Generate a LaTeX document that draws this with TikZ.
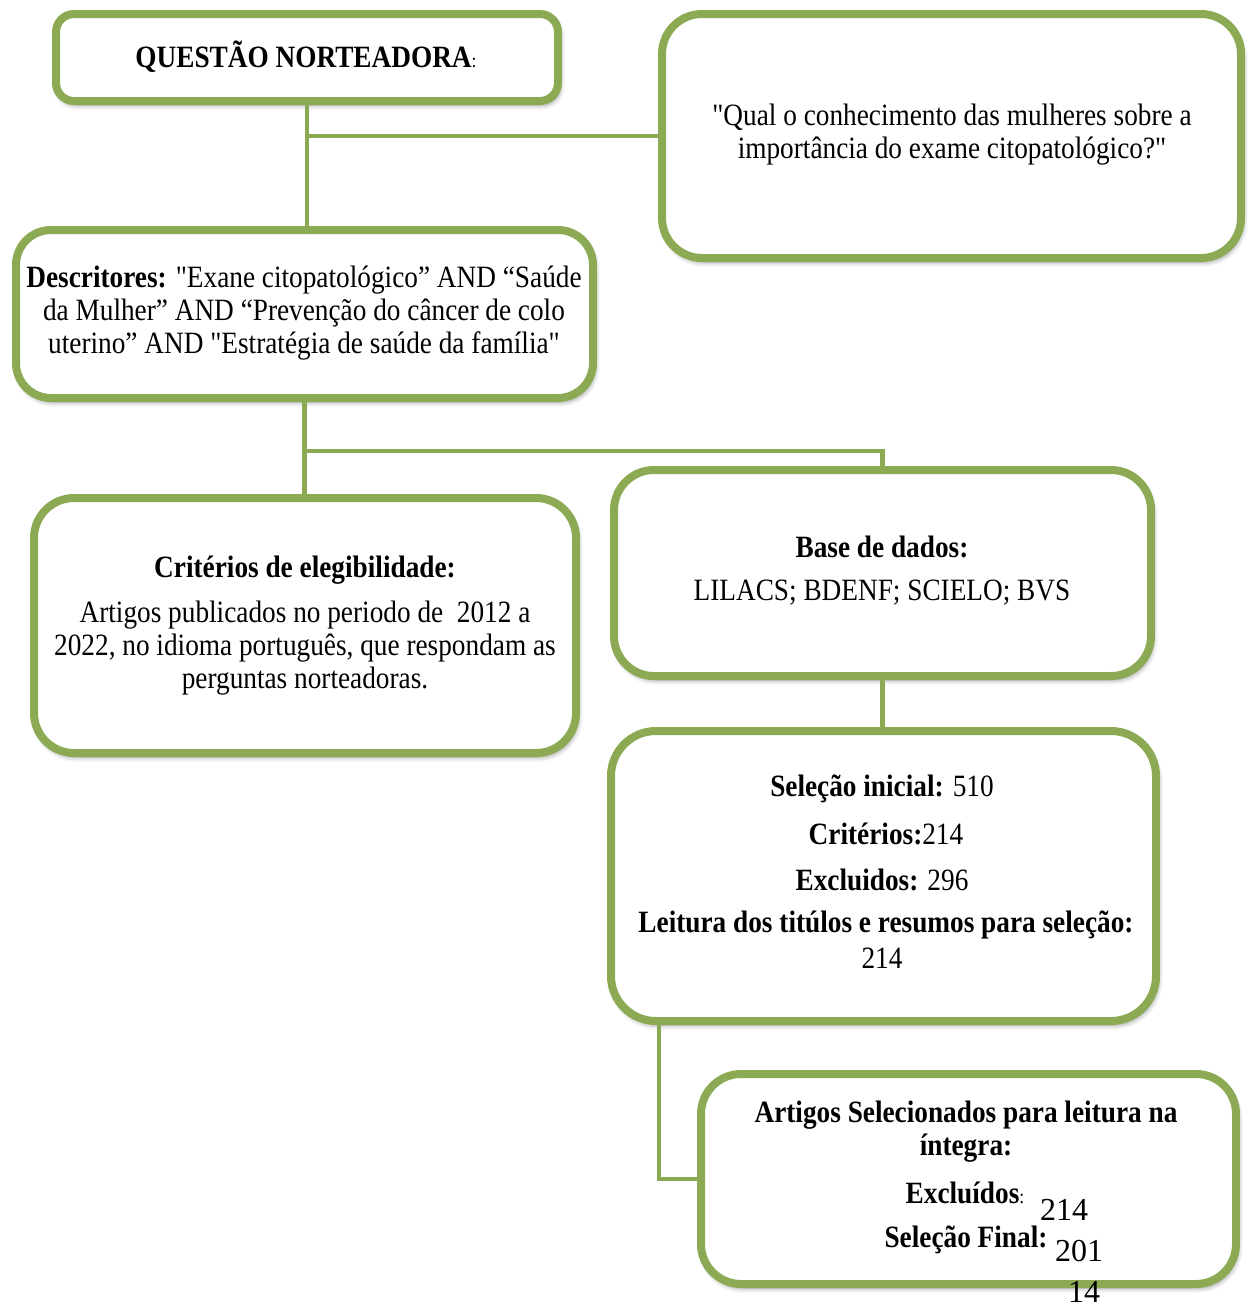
\documentclass[tikz,border=0pt]{standalone}
\usepackage{fontspec}
\newfontfamily\tfont{Liberation Serif}[FakeStretch=0.88]
\newfontfamily\plainnum{Liberation Serif}
\usetikzlibrary{shadows.blur}
\definecolor{leaf}{RGB}{139,170,83}
\begin{document}
\begin{tikzpicture}[x=1pt,y=-1pt,
  box/.style={draw=leaf, line width=8pt, fill=white, rounded corners=#1, inner sep=0pt,
    blur shadow={shadow xshift=2pt, shadow yshift=-4pt, shadow blur radius=5pt, shadow opacity=45}},
  box/.default=40pt,
  conn/.style={draw=leaf, line width=4.5pt},
  txt/.style={font=\tfont\fontsize{31}{33}\selectfont, align=center, inner sep=0pt},
  num/.style={font=\plainnum\fontsize{32}{34}\selectfont, inner sep=0pt}]
\useasboundingbox (0,0) rectangle (1249,1307);

% boxes
\node[box=18pt, minimum width=502pt, minimum height=87pt] (q) at (307,57.5) {};
\node[box, minimum width=579pt, minimum height=244pt] (qual) at (951.5,136) {};
\node[box=35pt, minimum width=577pt, minimum height=168pt] (desc) at (304.5,314) {};
\node[box, minimum width=542pt, minimum height=255pt] (crit) at (305,625.5) {};
\node[box, minimum width=537pt, minimum height=206pt] (base) at (882.5,573) {};
\node[box=45pt, minimum width=545pt, minimum height=290pt] (sel) at (883.5,876) {};
\node[box, minimum width=535pt, minimum height=210pt] (art) at (968.5,1179) {};

% connectors
\draw[conn] (q.south) |- (qual.west);
\draw[conn] (q.south) -- (q.south |- desc.north);
\draw[conn] (desc.south) -- (desc.south |- crit.north);
\draw[conn] (desc.south) -- ++(0,49) -| (base.north);
\draw[conn] (base.south) -- (base.south |- sel.north);
\draw[conn] ([xshift=52pt]sel.south west) |- (art.west);

% texts
\node[txt] (tq) at (306,57) {\textbf{QUESTÃO NORTEADORA}{\fontsize{20}{22}\selectfont:}};
\node[txt] (tqual) at (952,135) {"Qual o conhecimento das mulheres sobre a\\importância do exame citopatológico?"};
\node[txt] (tdesc) at (304,313) {\textbf{Descritores:} "Exane citopatológico” AND “Saúde\\da Mulher” AND “Prevenção do câncer de colo\\uterino” AND "Estratégia de saúde da família"};
\node[txt] (tcrit1) at (305,570) {\textbf{Critérios de elegibilidade:}};
\node[txt] (tcrit2) at (305,648) {Artigos publicados no periodo de\ \ 2012 a\\2022, no idioma português, que respondam as\\perguntas norteadoras.};
\node[txt] (tbase1) at (882,547) {\textbf{Base de dados:}};
\node[txt] (tbase2) at (882,593) {LILACS; BDENF; SCIELO; BVS};
\node[txt] (tsel1) at (882,789) {\textbf{Seleção inicial:} 510};
\node[txt] (tsel2) at (886,834) {\textbf{Critérios:}214};
\node[txt] (tsel3) at (882,880) {\textbf{Excluidos:} 296};
\node[txt] (tsel4) at (886,925) {\textbf{Leitura dos titúlos e resumos para seleção:}};
\node[txt] (tsel5) at (882,958) {214};
\node[txt] (tart1) at (966,1115) {\textbf{Artigos Selecionados para leitura na}};
\node[txt] (tart2) at (966,1148) {\textbf{íntegra:}};
\node[txt] (tart3) at (965,1193) {\textbf{Excluídos}{\fontsize{20}{22}\selectfont:}};
\node[num] (n214) at (1064,1210) {214};
\node[txt] (tart4) at (966,1240) {\textbf{Seleção Final:}};
\node[num] (n201) at (1079,1251) {201};
\node[num] (n14) at (1084,1292) {14};
\end{tikzpicture}
\end{document}
